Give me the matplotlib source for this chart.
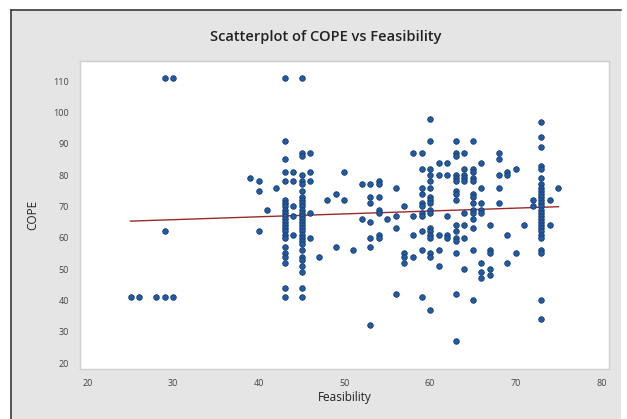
import matplotlib
matplotlib.use("Agg")
import matplotlib.pyplot as plt
from matplotlib.patches import Rectangle

plt.rcParams['font.family'] = ['Open Sans', 'DejaVu Sans']

feasibility = (
    [25, 26, 28, 29, 29, 29, 30, 30]
    + [39, 40, 40, 40, 41, 42]
    + [43] * 24
    + [44] * 5
    + [45] * 30
    + [46] * 5
    + [47, 48, 49, 49, 50, 50, 51, 52, 52]
    + [53] * 7
    + [54] * 7
    + [55] + [56] * 4 + [57] * 4 + [58] * 4
    + [59] * 11
    + [60] * 18
    + [61] * 5 + [62] * 5
    + [63] * 16
    + [64] * 9
    + [65] * 14
    + [66] * 8 + [67] * 5 + [68] * 5 + [69] * 4 + [70] * 2 + [71] + [72] * 2
    + [73] * 28
    + [74] * 2 + [75]
)

cope = (
    [41, 41, 41, 41, 62, 111, 41, 111]
    + [79, 78, 75, 62, 69, 76]
    # 43
    + [111, 91, 85, 81, 78, 72, 71, 70, 69, 68, 67, 66, 65, 64, 63, 62, 61, 60, 57, 55, 54, 52, 44, 41]
    # 44
    + [81, 78, 70, 67, 61]
    # 45
    + [111, 87, 86, 80, 78, 77, 75, 73, 72, 71, 70, 69, 68, 67, 66, 65, 64, 63, 62, 61, 60, 59, 58, 56, 54, 53, 51, 49, 44, 41]
    # 46
    + [87, 81, 78, 68, 60]
    # 47..52
    + [54, 72, 74, 57, 81, 72, 56, 77, 66]
    # 53
    + [77, 73, 71, 65, 60, 57, 32]
    # 54
    + [78, 77, 73, 69, 68, 61, 60]
    # 55, 56, 57, 58
    + [66] + [76, 67, 63, 42] + [70, 55, 54, 52] + [87, 67, 61, 54]
    # 59
    + [87, 82, 76, 74, 71, 70, 68, 67, 62, 56, 41]
    # 60
    + [98, 91, 82, 80, 78, 76, 73, 72, 71, 69, 68, 63, 62, 61, 60, 55, 54, 37]
    # 61, 62
    + [84, 80, 61, 56, 51] + [84, 80, 67, 61, 60]
    # 63
    + [91, 87, 86, 80, 79, 78, 75, 74, 72, 64, 62, 60, 59, 55, 42, 27]
    # 64
    + [87, 82, 80, 79, 78, 68, 64, 60, 50]
    # 65
    + [91, 82, 81, 79, 78, 74, 73, 71, 69, 68, 66, 63, 56, 40]
    # 66..72
    + [84, 76, 71, 69, 68, 52, 49, 47]
    + [64, 56, 55, 50, 48]
    + [87, 85, 80, 76, 71]
    + [81, 80, 61, 52]
    + [82, 55]
    + [64]
    + [72, 70]
    # 73
    + [97, 92, 89, 83, 82, 79, 77, 76, 75, 74, 73, 72, 71, 70, 69, 68, 67, 66, 65, 64, 63, 62, 61, 60, 56, 55, 40, 34]
    # 74, 75
    + [72, 64] + [76]
)

fit_x = [25, 75]
fit_y = [65.3, 69.9]

x_ticks = [20, 30, 40, 50, 60, 70, 80]
y_ticks = [20, 30, 40, 50, 60, 70, 80, 90, 100, 110]

W, H = 627, 419
fig = plt.figure(figsize=(W / 100, H / 100), dpi=100)
fig.patch.set_facecolor('white')

# gray panel (background axes)
bg = fig.add_axes([0, 0, 1, 1], zorder=-5)
bg.set_xlim(0, W)
bg.set_ylim(H, 0)
bg.axis('off')
bg.add_patch(Rectangle((11, 10), 610, H - 10, facecolor='#e5e5e5', edgecolor='none'))
bg.plot([11, 11], [H, 10], color='#3a3a3a', lw=1.2)
bg.plot([11, 621], [10, 10], color='#3a3a3a', lw=1.2)

ax = fig.add_axes([80 / W, 1 - 369 / H, (609 - 80) / W, (369 - 61) / H], zorder=1)
ax.set_facecolor('white')
ax.scatter(feasibility, cope, s=16, facecolor='#1f5ca8', edgecolor='#1b3b6a',
           linewidths=0.6, zorder=3)
ax.plot(fit_x, fit_y, color='#9a2b2b', lw=1.0, zorder=2)

ax.set_xlim(19.1, 80.9)
ax.set_ylim(18.1, 116.4)
ax.set_xticks(x_ticks)
ax.set_yticks(y_ticks)
ax.tick_params(axis='both', length=0, labelsize=6.5, labelcolor='#444444')
ax.tick_params(axis='x', pad=7)
ax.tick_params(axis='y', pad=8)
for sp in ax.spines.values():
    sp.set_color('#cfcfcf')
    sp.set_linewidth(1.0)

ax.set_xlabel('Feasibility', fontsize=8.5, color='#222222', labelpad=2)
ax.set_ylabel('COPE', fontsize=8.5, color='#222222', labelpad=10)

fig.text(326 / W, 1 - 37 / H, 'Scatterplot of COPE vs Feasibility', ha='center', va='center',
         fontsize=10.5, fontweight='semibold', color='#222222')

fig.savefig('out.png', dpi=100)
